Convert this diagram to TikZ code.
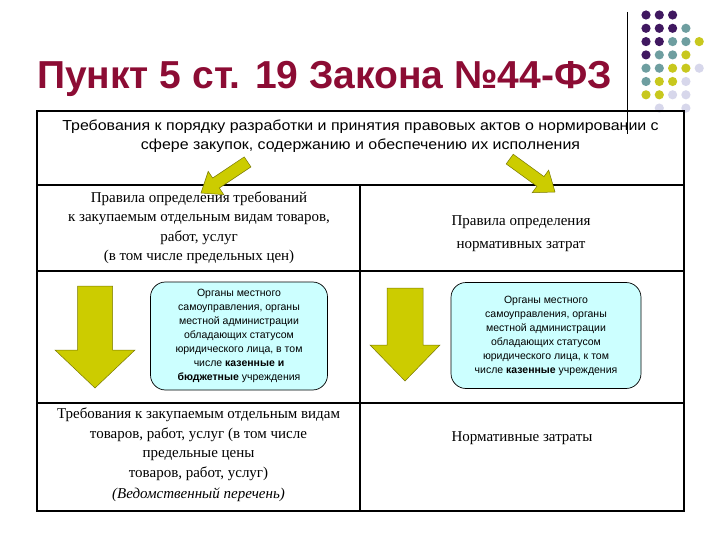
\documentclass[tikz,border=0pt]{standalone}
\usepackage{fontspec}
\setmainfont{Liberation Serif}
\setsansfont{Liberation Sans}
\newfontfamily\arialfont{Liberation Sans}
\newfontfamily\arialwide[FakeStretch=1.1]{Liberation Sans}
\usetikzlibrary{calc}
\definecolor{titlered}{RGB}{140,12,52}
\definecolor{dotP}{RGB}{64,24,96}
\definecolor{dotT}{RGB}{110,158,160}
\definecolor{dotY}{RGB}{200,200,30}
\definecolor{dotL}{RGB}{215,215,235}
\definecolor{arrfill}{RGB}{204,204,0}
\definecolor{arrline}{RGB}{120,120,0}
\definecolor{boxfill}{RGB}{204,255,255}
\newcommand\myDownArrow[6]{%
  \filldraw[yarrow] (#1-#5,#2) -- (#1+#5,#2) -- (#1+#5,#3) -- (#1+#6,#3) -- (#1,#4) -- (#1-#6,#3) -- (#1-#5,#3) -- cycle;}
\newcommand\myDiagArrow{%
  \filldraw[yarrow] (0,0) -- (-18,14) -- (-18,6) -- (-56,6) -- (-56,-6) -- (-18,-6) -- (-18,-14) -- cycle;}
\begin{document}
\begin{tikzpicture}[x=1pt,y=-1pt,
  frame/.style={line width=1.6pt,black},
  yarrow/.style={fill=arrfill,draw=arrline,line width=0.5pt,line join=miter},
  hdrtext/.style={font=\arialwide\fontsize{14.5}{19}\selectfont,align=center,inner sep=0pt},
  celltext/.style={font=\fontsize{15}{19.5}\selectfont,align=center,inner sep=0pt},
  cbox/.style={draw=black,line width=0.7pt,fill=boxfill,rounded corners=15pt,align=center,
    font=\arialfont\fontsize{10.5}{14}\selectfont,inner sep=0pt}]
\useasboundingbox (0,0) rectangle (720,540);
\fill[white] (0,0) rectangle (720,540);
% decorative dots
\foreach \r/\c/\col in {0/0/dotP,0/1/dotP,0/2/dotP,
  1/0/dotP,1/1/dotP,1/2/dotP,1/3/dotT,
  2/0/dotP,2/1/dotP,2/2/dotT,2/3/dotT,2/4/dotY,
  3/0/dotP,3/1/dotT,3/2/dotT,3/3/dotY,
  4/0/dotT,4/1/dotT,4/2/dotY,4/3/dotY,4/4/dotL,
  5/0/dotT,5/1/dotY,5/2/dotY,5/3/dotL,
  6/0/dotY,6/1/dotY,6/2/dotL,6/3/dotL,
  7/1/dotL,7/3/dotL}
  \fill[\col] (646+13.3*\c,15+13.3*\r) circle (4.6);
% title
\node[anchor=base west,inner sep=0pt,text=titlered,font=\arialfont\bfseries\fontsize{39}{44}\selectfont] (title) at (37,89) {Пункт 5 ст. 19 Закона №44-ФЗ};
% table frame
\draw[frame] (37,111) rectangle (684,511);
\draw[frame] (37,185) -- (684,185);
\draw[frame] (37,271) -- (684,271);
\draw[frame] (37,403) -- (684,403);
\draw[frame] (360,185) -- (360,511);
% header
\node[hdrtext] (hdr) at (360.5,136.5) {Требования к порядку разработки и принятия правовых актов о нормировании с\\сфере закупок, содержанию и обеспечению их исполнения};
\draw[black,line width=0.7pt] (627,12) -- (627,134);
% row 2
\node[celltext] (r2l) at (199,227.5) {Правила определения требований\\к закупаемым отдельным видам товаров,\\работ, услуг\\(в том числе предельных цен)};
\node[celltext,font=\fontsize{15}{23}\selectfont] (r2r) at (521,234) {Правила определения\\нормативных затрат};
% row 3
\node[cbox,minimum width=177pt,minimum height=108pt] (bl) at (239,336) {Органы местного\\самоуправления, органы\\местной администрации\\обладающих статусом\\юридического лица, в том\\числе \textbf{казенные и}\\\textbf{бюджетные} учреждения};
\node[cbox,minimum width=190pt,minimum height=106pt] (br) at (546,335.5) {Органы местного\\самоуправления, органы\\местной администрации\\обладающих статусом\\юридического лица, к том\\числе \textbf{казенные} учреждения};
\myDownArrow{95}{286}{350}{388}{17.5}{40}
\myDownArrow{405}{288}{345}{381}{18}{35}
% row 4
\node[celltext] (r4l) at (198.5,455) {Требования к закупаемым отдельным видам\\товаров, работ, услуг (в том числе\\предельные цены\\товаров, работ, услуг)\\[2pt]\textit{(Ведомственный перечень)}};
\node[celltext] (r4r) at (522,438) {Нормативные затраты};
% diagonal arrows
\begin{scope}[shift={(201,193)},rotate=213.7]\myDiagArrow\end{scope}
\begin{scope}[shift={(555,192)},rotate=-36]\myDiagArrow\end{scope}
\end{tikzpicture}
\end{document}
